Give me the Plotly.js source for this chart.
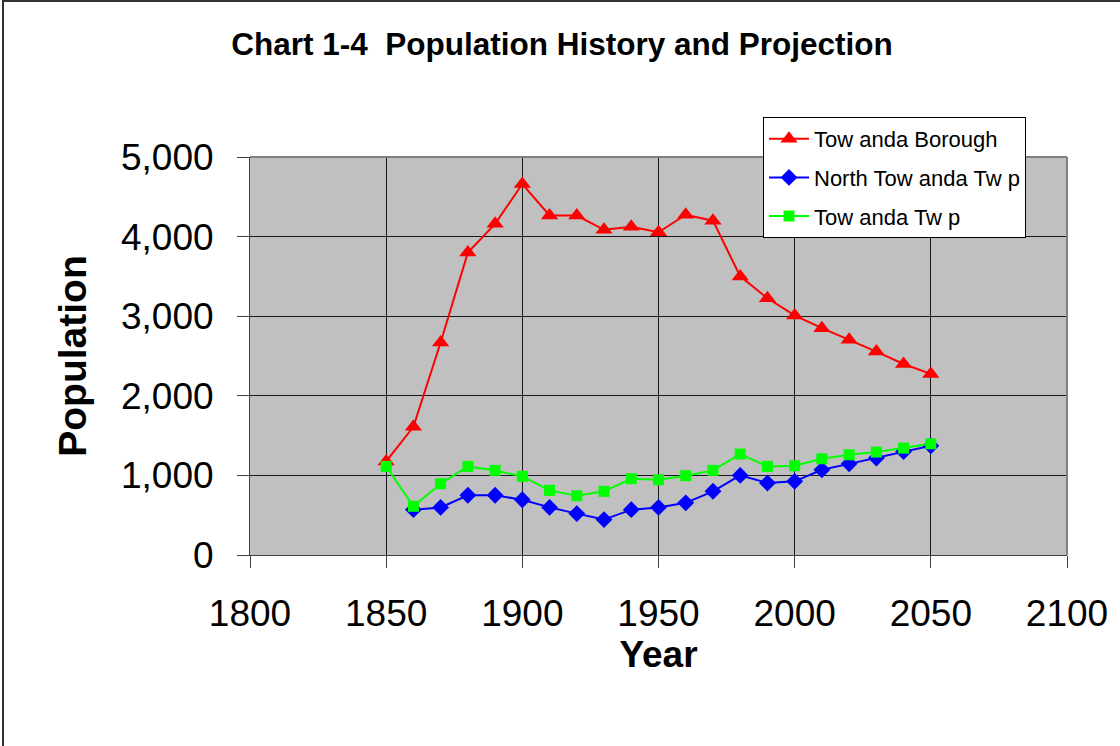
<!DOCTYPE html>
<html>
<head>
<meta charset="utf-8">
<script src="https://cdn.plot.ly/plotly-3.0.1.min.js"></script>
<style>
html,body{margin:0;padding:0;background:#fff;}
#frame{position:absolute;left:0;top:0;width:1120px;height:746px;overflow:hidden;}
#border{position:absolute;left:2px;top:0;width:1200px;height:800px;border-left:2px solid #333;border-top:2px solid #333;pointer-events:none;}
#chart{position:absolute;left:0;top:0;width:1120px;height:746px;}
</style>
</head>
<body>
<div id="frame">
<div id="chart"></div>
<div id="border"></div>
</div>
<script>
const years = [1850,1860,1870,1880,1890,1900,1910,1920,1930,1940,1950,1960,1970,1980,1990,2000,2010,2020,2030,2040,2050];
const boroughYears = years;
const borough = [1175,1610,2670,3800,4160,4660,4265,4265,4085,4125,4055,4275,4200,3500,3225,3010,2850,2705,2555,2400,2275];
const northYears = years.slice(1);
const north = [570,598,750,750,695,598,520,445,570,598,655,800,1000,905,925,1070,1145,1218,1300,1372];
const twpYears = years;
const twp = [1113,612,895,1113,1063,988,812,745,800,958,946,996,1063,1268,1113,1121,1209,1259,1293,1343,1397];
const seriesNames = ["Tow anda Borough","North Tow anda Tw p","Tow anda Tw p"];
const xTicks = [1800,1850,1900,1950,2000,2050,2100];
const yTicks = [0,1000,2000,3000,4000,5000];

const traces = [
  {x: boroughYears, y: borough, name: seriesNames[0], legendgroup:'a', type:'scatter', mode:'lines+markers',
   line:{color:'#ff0000', width:2}, marker:{symbol:'triangle-up', size:15, color:'#ff0000'}},
  {x: northYears, y: north, name: seriesNames[1], legendgroup:'b', type:'scatter', mode:'lines+markers',
   line:{color:'#0000ff', width:2}, marker:{symbol:'diamond', size:13, color:'#0000ff'}},
  {x: twpYears, y: twp, name: seriesNames[2], legendgroup:'c', type:'scatter', mode:'lines+markers',
   line:{color:'#00ff00', width:2}, marker:{symbol:'square', size:11, color:'#00ff00'}}
];

const layout = {
  width:1120, height:746,
  margin:{l:250, r:53, t:157, b:191},
  paper_bgcolor:'#ffffff',
  plot_bgcolor:'#c0c0c0',
  font:{family:'Arial, Liberation Sans, sans-serif', color:'#000'},
  title:{text:'<b>Chart 1-4  Population History and Projection</b>', font:{size:31.5, color:'#000'},
         x:562/1120, xanchor:'center', y:1-44/746, yanchor:'middle'},
  showlegend:true,
  legend:{x:(763-250)/817, xanchor:'left', y:(555-117)/398, yanchor:'top',
          bgcolor:'#ffffff', bordercolor:'#000', borderwidth:1,
          font:{size:22, color:'#000'}, traceorder:'grouped', tracegroupgap:7, itemwidth:40},
  xaxis:{range:[1800,2100], tickvals:xTicks, ticktext:xTicks.map(String),
         showgrid:true, gridcolor:'#1a1a1a', gridwidth:1,
         showline:true, linecolor:'#404040', linewidth:1,
         ticks:'outside', ticklen:12, tickcolor:'#404040', tickwidth:1,
         tickfont:{size:37, color:'#000'}, ticklabelstandoff:14,
         zeroline:false,
         title:{text:'<b>Year</b>', font:{size:37, color:'#000'}, standoff:2}},
  yaxis:{range:[0,5000], tickvals:yTicks, tickformat:',d',
         showgrid:true, gridcolor:'#1a1a1a', gridwidth:1,
         showline:true, linecolor:'#404040', linewidth:1,
         ticks:'outside', ticklen:12, tickcolor:'#404040', tickwidth:1,
         tickfont:{size:37, color:'#000'}, ticklabelstandoff:16,
         zeroline:false,
         title:{text:'<b>Population</b>', font:{size:39, color:'#000'}, standoff:22}},
  shapes:[
    {type:'line', xref:'paper', yref:'paper', x0:0, x1:1, y0:1, y1:1, line:{color:'#808080', width:2}},
    {type:'line', xref:'paper', yref:'paper', x0:1, x1:1, y0:0, y1:1, line:{color:'#808080', width:2}}
  ]
};

Plotly.newPlot('chart', traces, layout, {displayModeBar:false, staticPlot:true});
</script>
</body>
</html>
